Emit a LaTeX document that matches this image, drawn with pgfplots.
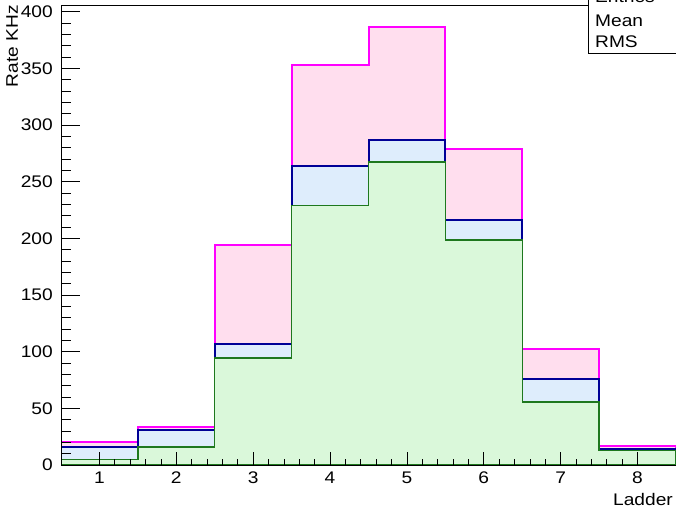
\documentclass[border=0pt]{standalone}
\usepackage{pgfplots}
\pgfplotsset{compat=1.18}
\usepackage{fontspec}
\setmainfont{Liberation Sans}[FakeStretch=1.14]
\definecolor{magline}{RGB}{255,0,255}
\definecolor{magfill}{RGB}{255,222,238}
\definecolor{blueline}{RGB}{0,0,150}
\definecolor{bluefill}{RGB}{222,237,252}
\definecolor{greenline}{RGB}{30,120,30}
\definecolor{greenfill}{RGB}{218,248,218}
\begin{document}
\begin{tikzpicture}[font=\fontsize{16.8bp}{20bp}\selectfont]
\pgfplotsset{every axis/.append style={font=\fontsize{16.8bp}{20bp}\selectfont},
  every tick label/.append style={font=\fontsize{16.8bp}{20bp}\selectfont}}
\begin{axis}[name=ax, scale only axis, width=615bp, height=460bp,
  xmin=0.5, xmax=8.5, ymin=0, ymax=406,
  axis on top, axis line style={line width=0.8bp},
  xtick=\empty, ytick={0,50,...,400}, minor y tick num=4, ytick pos=left,
  major tick length=19bp, minor tick length=10bp,
  every tick/.style={black, line width=0.8bp},
  yticklabel style={inner sep=0pt, xshift=-8bp},
  yticklabel={\pgfmathprintnumber[assume math mode=true]{\tick}},
  ]
\addplot[const plot, draw=magline, line width=2bp, fill=magfill] coordinates {
 (0.5,20) (1.5,33.5) (2.5,194) (3.5,353) (4.5,387) (5.5,279) (6.5,102) (7.5,16.5) (8.5,16.5)} \closedcycle;
\addplot[const plot, draw=blueline, line width=2bp, fill=bluefill] coordinates {
 (0.5,15.5) (1.5,31) (2.5,107) (3.5,264) (4.5,287) (5.5,216) (6.5,76) (7.5,14) (8.5,14)} \closedcycle;
\addplot[const plot, draw=greenline, line width=1.3bp, fill=greenfill] coordinates {
 (0.5,5) (1.5,16) (2.5,94.5) (3.5,229) (4.5,267.5) (5.5,198.5) (6.5,55.5) (7.5,13) (8.5,13)} \closedcycle;
\end{axis}
\begin{axis}[scale only axis, width=615bp, height=460bp,
  xmin=0.5, xmax=8.5, ymin=0, ymax=406,
  axis on top, axis line style={line width=0.8bp},
  ytick=\empty, xtick={1,...,8}, minor x tick num=4, xtick pos=bottom,
  major tick length=13bp, minor tick length=6.5bp,
  every tick/.style={black, line width=0.8bp},
  xticklabel style={inner sep=0pt, yshift=-7bp},
  xticklabel={\pgfmathprintnumber[assume math mode=true]{\tick}},
  ]
\end{axis}
\draw[line width=0.8bp, fill=white] ([xshift=-88bp,yshift=-48.3bp]ax.north east) rectangle ([xshift=30bp,yshift=40bp]ax.north east);
\node[anchor=base west, inner sep=0pt] at ([xshift=-81bp,yshift=2bp]ax.north east) {Entries};
\node[anchor=base west, inner sep=0pt] at ([xshift=-81bp,yshift=-21.7bp]ax.north east) {Mean};
\node[anchor=base west, inner sep=0pt] at ([xshift=-81bp,yshift=-43bp]ax.north east) {RMS};
\node[rotate=90, anchor=north east, inner sep=0pt] at ([xshift=-55bp,yshift=0bp]ax.north west) {Rate KHz};
\node[anchor=base east, inner sep=0pt] at ([xshift=-3bp,yshift=-40bp]ax.south east) {Ladder};
\pgfresetboundingbox
\path[use as bounding box] ([xshift=-61bp,yshift=-45bp]ax.south west) rectangle ([yshift=5bp]ax.north east);
\end{tikzpicture}
\end{document}
